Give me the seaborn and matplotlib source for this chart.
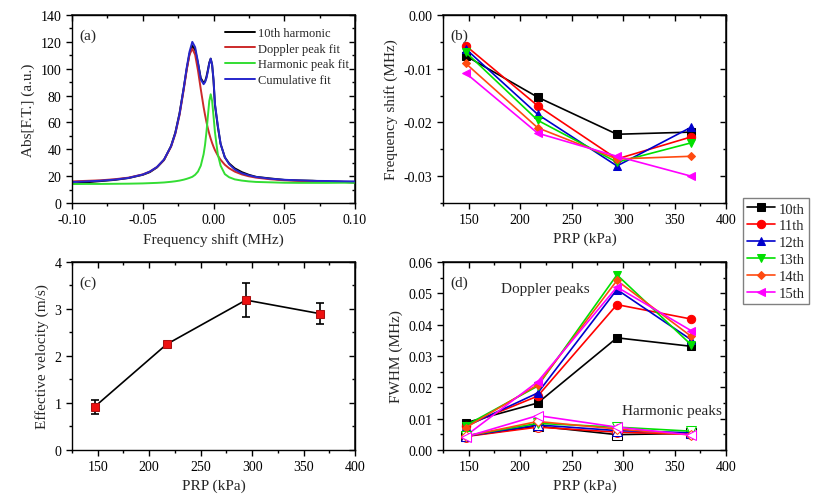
import matplotlib
matplotlib.use("Agg")
import matplotlib.pyplot as plt
import seaborn as sns
from matplotlib.ticker import MultipleLocator, FormatStrFormatter, NullFormatter

# (a) spectrum around the 10th harmonic and its two-peak fit
freq = [-0.10, -0.09, -0.08, -0.07, -0.06, -0.05, -0.045, -0.04, -0.035, -0.03,
        -0.027, -0.024, -0.021, -0.019, -0.017, -0.015, -0.013, -0.011, -0.009, -0.007,
        -0.006, -0.005, -0.004, -0.003, -0.002, -0.001, 0.0, 0.001, 0.003, 0.005,
        0.008, 0.011, 0.015, 0.02, 0.025, 0.03, 0.04, 0.05, 0.06, 0.07,
        0.08, 0.09, 0.10]
harm10 = [14.3, 15.4, 16.3, 17.2, 18.6, 21.0, 23.0, 26.5, 32.0, 42.5,
          52.5, 67.0, 86.0, 99.5, 111.0, 117.0, 114.0, 104.0, 93.0, 89.5,
          90.5, 94.0, 99.0, 104.5, 107.5, 103.0, 91.0, 73.0, 57.0, 44.0,
          34.0, 29.5, 25.8, 23.0, 21.0, 19.5, 18.3, 17.2, 16.8, 16.6,
          16.0, 15.8, 15.2]
doppler_fit = [16.1, 16.5, 16.9, 17.7, 18.9, 21.3, 23.4, 26.7, 32.2, 41.9,
               51.5, 65.6, 84.7, 98.8, 110.4, 115.0, 110.4, 98.8, 84.7, 71.4,
               65.6, 60.3, 55.6, 51.5, 47.9, 44.7, 41.9, 39.4, 35.4, 32.2,
               28.5, 25.9, 23.4, 21.3, 19.9, 18.9, 17.7, 16.9, 16.5, 16.1,
               15.9, 15.8, 15.6]
harmonic_fit = [14.1, 14.2, 14.2, 14.3, 14.4, 14.6, 14.8, 15.0, 15.3, 15.8,
                16.2, 16.7, 17.4, 18.0, 18.7, 19.5, 21.0, 23.4, 27.8, 36.4,
                43.3, 52.8, 64.6, 76.0, 81.0, 76.0, 64.6, 52.8, 36.4, 27.8,
                21.5, 19.2, 17.6, 16.7, 16.1, 15.7, 15.4, 15.1, 15.0, 15.0,
                15.0, 15.1, 15.1]
cumulative_fit = [15.6, 16.1, 16.6, 17.4, 18.7, 21.2, 23.4, 26.8, 32.4, 42.3,
                  52.0, 66.4, 86.0, 100.5, 112.5, 120.0, 116.0, 105.0, 92.0, 88.5,
                  90.0, 93.0, 98.0, 104.0, 107.5, 103.0, 92.0, 74.0, 58.0, 44.0,
                  34.0, 29.0, 25.0, 22.2, 20.6, 19.4, 18.1, 17.3, 16.9, 16.5,
                  16.4, 16.2, 16.1]

# (b)-(d) versus peak rarefactional pressure
prp = [147, 217, 294, 366]
orders = ["10th", "11th", "12th", "13th", "14th", "15th"]
freq_shift = [
    [-0.0076, -0.0153, -0.0222, -0.0218],
    [-0.0057, -0.0169, -0.0268, -0.0227],
    [-0.0063, -0.0185, -0.0281, -0.0209],
    [-0.0069, -0.0196, -0.0274, -0.0238],
    [-0.0090, -0.0210, -0.0268, -0.0263],
    [-0.0108, -0.0220, -0.0263, -0.0300],
]
velocity = [0.92, 2.25, 3.19, 2.90]
velocity_err = [0.15, 0.03, 0.36, 0.22]
fwhm_doppler = [
    [0.0087, 0.0150, 0.0358, 0.0331],
    [0.0078, 0.0172, 0.0464, 0.0418],
    [0.0075, 0.0182, 0.0512, 0.0352],
    [0.0078, 0.0204, 0.0559, 0.0336],
    [0.0071, 0.0208, 0.0541, 0.0363],
    [0.0045, 0.0218, 0.0520, 0.0381],
]
fwhm_harmonic = [
    [0.0044, 0.0076, 0.0049, 0.0053],
    [0.0043, 0.0073, 0.0057, 0.0050],
    [0.0044, 0.0080, 0.0062, 0.0055],
    [0.0045, 0.0085, 0.0073, 0.0060],
    [0.0044, 0.0091, 0.0067, 0.0048],
    [0.0042, 0.0110, 0.0073, 0.0048],
]

colors = ["#000000", "#FF0000", "#0000CC", "#00E000", "#FF4A10", "#FF00FF"]
markers = ["s", "o", "^", "v", "D", "<"]
msizes = [5.5, 6, 6, 6, 4.5, 6]

sns.set_theme(style="ticks")
plt.rcParams["font.family"] = ["Liberation Serif", "DejaVu Serif"]
plt.rcParams["axes.unicode_minus"] = False


def frame(ax, xlim, ylim, xmaj, ymaj, xfmt, yfmt):
    ax.set_xlim(*xlim)
    ax.set_ylim(*ylim)
    ax.xaxis.set_major_locator(MultipleLocator(xmaj))
    ax.xaxis.set_minor_locator(MultipleLocator(xmaj / 2))
    ax.yaxis.set_major_locator(MultipleLocator(ymaj))
    ax.yaxis.set_minor_locator(MultipleLocator(ymaj / 2))
    ax.xaxis.set_major_formatter(FormatStrFormatter(xfmt))
    ax.yaxis.set_major_formatter(FormatStrFormatter(yfmt))
    ax.tick_params(which="both", direction="out", colors="black", labelsize=10, width=1)
    ax.tick_params(which="major", length=4)
    ax.tick_params(which="minor", length=2)
    for sp in ax.spines.values():
        sp.set_color("black")
        sp.set_linewidth(1)
    # mirrored inward ticks on top and right, like the original plotting software
    top = ax.secondary_xaxis("top")
    top.xaxis.set_major_locator(MultipleLocator(xmaj))
    top.xaxis.set_minor_locator(MultipleLocator(xmaj / 2))
    top.xaxis.set_major_formatter(NullFormatter())
    top.tick_params(which="both", direction="in", width=1, colors="black")
    top.tick_params(which="major", length=4)
    top.tick_params(which="minor", length=2)
    right = ax.secondary_yaxis("right")
    right.yaxis.set_major_locator(MultipleLocator(ymaj))
    right.yaxis.set_minor_locator(MultipleLocator(ymaj / 2))
    right.yaxis.set_major_formatter(NullFormatter())
    right.tick_params(which="both", direction="in", width=1, colors="black")
    right.tick_params(which="major", length=4)
    right.tick_params(which="minor", length=2)


fig = plt.figure(figsize=(8.23, 5.02), dpi=100)
ax_a = fig.add_axes([0.0875, 0.5936, 0.3439, 0.3745])
ax_b = fig.add_axes([0.5383, 0.5936, 0.3439, 0.3745])
ax_c = fig.add_axes([0.0875, 0.1016, 0.3439, 0.3745])
ax_d = fig.add_axes([0.5383, 0.1016, 0.3439, 0.3745])

# (a)
sns.lineplot(x=freq, y=harm10, color="black", lw=1.4, label="10th harmonic", ax=ax_a, sort=False)
sns.lineplot(x=freq, y=doppler_fit, color="#CC2A2A", lw=1.4, label="Doppler peak fit", ax=ax_a, sort=False)
sns.lineplot(x=freq, y=harmonic_fit, color="#33DD33", lw=1.4, label="Harmonic peak fit", ax=ax_a, sort=False)
sns.lineplot(x=freq, y=cumulative_fit, color="#2626CC", lw=1.4, label="Cumulative fit", ax=ax_a, sort=False)
frame(ax_a, (-0.10, 0.10), (0, 140), 0.05, 20, "%.2f", "%d")
ax_a.set_xlabel("Frequency shift (MHz)", fontsize=11)
ax_a.set_ylabel("Abs[F.T.] (a.u.)", fontsize=11)
ax_a.text(0.025, 0.93, "(a)", transform=ax_a.transAxes, fontsize=11, va="top")
ax_a.legend(loc="upper right", bbox_to_anchor=(1.0, 0.97), frameon=False, fontsize=9,
            handlelength=2.4, handletextpad=0.2, labelspacing=0.3, borderaxespad=0.1)

# (b)
for i, name in enumerate(orders):
    sns.lineplot(x=prp, y=freq_shift[i], color=colors[i], lw=1.2, marker=markers[i],
                 markersize=msizes[i], markeredgecolor=colors[i], markerfacecolor=colors[i],
                 label=name, ax=ax_b, sort=False)
frame(ax_b, (125, 400), (-0.035, 0.0), 50, 0.01, "%d", "%.2f")
ax_b.set_xlabel("PRP (kPa)", fontsize=11)
ax_b.set_ylabel("Frequency shift (MHz)", fontsize=11)
ax_b.text(0.025, 0.93, "(b)", transform=ax_b.transAxes, fontsize=11, va="top")
handles, labels = ax_b.get_legend_handles_labels()
ax_b.get_legend().remove()

# (c)
ax_c.errorbar(prp, velocity, yerr=velocity_err, fmt="none", ecolor="black", elinewidth=1.2,
              capsize=3, capthick=1.2, zorder=2)
sns.lineplot(x=prp, y=velocity, color="black", lw=1.2, marker="s", markersize=6,
             markerfacecolor="#EE1111", markeredgecolor="#AA1111", ax=ax_c, sort=False, zorder=3)
frame(ax_c, (125, 400), (0, 4), 50, 1, "%d", "%d")
ax_c.set_xlabel("PRP (kPa)", fontsize=11)
ax_c.set_ylabel("Effective velocity (m/s)", fontsize=11)
ax_c.text(0.025, 0.93, "(c)", transform=ax_c.transAxes, fontsize=11, va="top")

# (d)
for i, name in enumerate(orders):
    sns.lineplot(x=prp, y=fwhm_doppler[i], color=colors[i], lw=1.2, marker=markers[i],
                 markersize=msizes[i], markeredgecolor=colors[i], markerfacecolor=colors[i],
                 ax=ax_d, sort=False)
for i, name in enumerate(orders):
    sns.lineplot(x=prp, y=fwhm_harmonic[i], color=colors[i], lw=1.2, marker=markers[i],
                 markersize=msizes[i] + 1, markeredgecolor=colors[i], markerfacecolor="white",
                 ax=ax_d, sort=False)
frame(ax_d, (125, 400), (0, 0.06), 50, 0.01, "%d", "%.2f")
ax_d.set_xlabel("PRP (kPa)", fontsize=11)
ax_d.set_ylabel("FWHM (MHz)", fontsize=11)
ax_d.text(0.025, 0.93, "(d)", transform=ax_d.transAxes, fontsize=11, va="top")
ax_d.text(224, 0.0515, "Doppler peaks", fontsize=11, ha="center", va="center")
ax_d.text(347, 0.0125, "Harmonic peaks", fontsize=11, ha="center", va="center")

fig.legend(handles, labels, loc="upper left", bbox_to_anchor=(0.9028, 0.6036), fontsize=10.5,
           frameon=True, fancybox=False, edgecolor="#808080", framealpha=1,
           handlelength=1.9, handletextpad=0.25, labelspacing=0.25, borderpad=0.3,
           borderaxespad=0.0)

fig.savefig("out.png", dpi=100)
